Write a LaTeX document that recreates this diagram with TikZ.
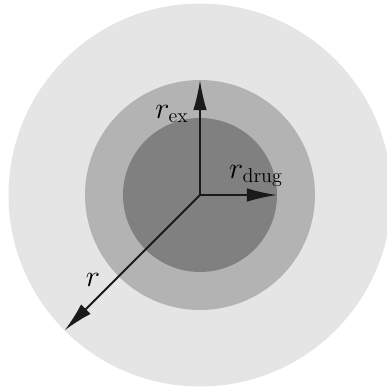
\documentclass[tikz,border=0pt]{standalone}
\usepackage{amsmath}
\usepackage{tikz}
\usetikzlibrary{arrows.meta}
\definecolor{shellout}{HTML}{E5E5E5}
\definecolor{shellex}{HTML}{B3B3B3}
\definecolor{shelldrug}{HTML}{808080}
\definecolor{radarrow}{HTML}{1A1A1A}

\begin{document}
\begin{tikzpicture}[font=\fontsize{16.3}{19}\selectfont,
    shell/.style={circle,inner sep=0pt,outer sep=0pt},
    radius arrow/.style={radarrow,line width=1.1pt,-{Latex[length=0.6cm,width=0.27cm]}}]
    \useasboundingbox (-4,-3.86) rectangle (3.74,3.9);
    \begin{scope}
      \clip (-4,-3.86) rectangle (3.74,3.9);
      \node[shell,fill=shellout,minimum size=7.66cm] (outer) at (0,0) {};
    \end{scope}
    \node[shell,fill=shellex,minimum size=4.6cm] (ex) at (0,0) {};
    \node[shell,fill=shelldrug,minimum size=3.08cm] (drug) at (0,0) {};
    \coordinate (o) at (0,0);
    \draw[radius arrow] (o) -- (ex.north);
    \draw[radius arrow] (o) -- (drug.east);
    \draw[radius arrow] (o) -- (outer.225);
    \node (rex) at (-0.56,1.62) {$r_{\text{ex}}$};
    \node (rdrug) at (1.12,0.38) {$r_{\text{drug}}$};
    \node (rr) at (-2.14,-1.7) {$r$};
  \end{tikzpicture}
\end{document}
